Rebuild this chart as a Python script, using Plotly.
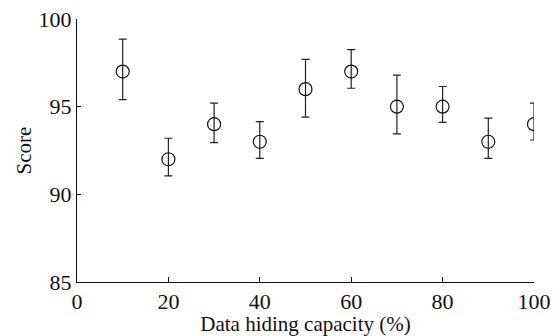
import plotly.graph_objects as go

capacity = [10, 20, 30, 40, 50, 60, 70, 80, 90, 100]
score = [97, 92, 94, 93, 96, 97, 95, 95, 93, 94]
err_plus = [1.85, 1.2, 1.2, 1.15, 1.7, 1.25, 1.8, 1.15, 1.35, 1.2]
err_minus = [1.6, 0.95, 1.05, 0.95, 1.6, 0.95, 1.55, 0.9, 0.95, 0.9]

x_ticks = [0, 20, 40, 60, 80, 100]
y_ticks = [85, 90, 95, 100]

font_family = "Liberation Serif, Times New Roman, serif"

fig = go.Figure()
fig.add_trace(go.Scatter(
    x=capacity, y=score, mode="markers",
    marker=dict(symbol="circle-open", size=13, color="#111111",
                line=dict(width=1.2, color="#111111")),
    error_y=dict(type="data", symmetric=False, array=err_plus,
                 arrayminus=err_minus, color="#222222", thickness=1.2, width=4),
    showlegend=False,
))

fig.update_layout(
    width=560, height=336,
    margin=dict(l=77, r=26, t=19, b=54, autoexpand=False),
    paper_bgcolor="white", plot_bgcolor="white",
    font=dict(family=font_family, size=22, color="#111111"),
)
fig.update_xaxes(
    range=[0, 100], tickvals=x_ticks, ticks="inside", ticklen=5,
    tickcolor="#111111", showline=True, linecolor="#111111", linewidth=1,
    showgrid=False, zeroline=False, automargin=False,
    title=dict(text="Data hiding capacity (%)", standoff=0,
               font=dict(size=21)),
    tickfont=dict(size=22),
)
fig.update_yaxes(
    range=[85, 100], tickvals=y_ticks, ticks="inside", ticklen=4,
    tickcolor="#111111", showline=True, linecolor="#111111", linewidth=1,
    showgrid=False, zeroline=False, automargin=False,
    title=dict(text="Score", standoff=1, font=dict(size=21)),
    tickfont=dict(size=22),
)

fig.write_html("out.html", config={"displayModeBar": False},
               post_script="document.body.style.margin='0';")
